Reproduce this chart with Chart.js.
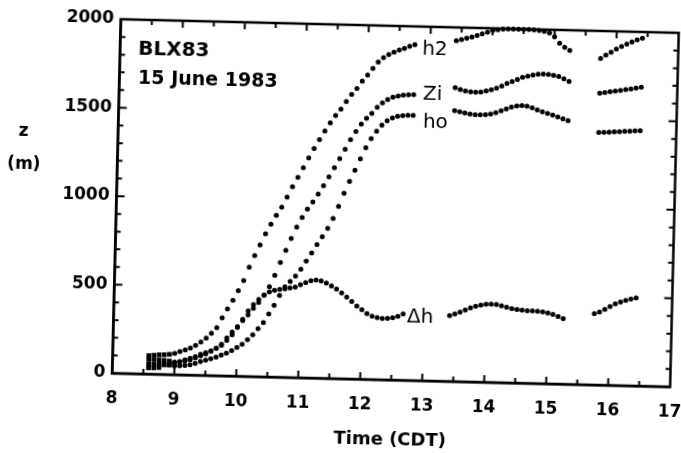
<!DOCTYPE html>
<html>
<head>
<meta charset="utf-8">
<script src="https://cdn.jsdelivr.net/npm/chart.js@4/dist/chart.umd.min.js"></script>
<style>
  html, body { margin: 0; padding: 0; background: #fff; overflow: hidden; width: 681px; height: 453px; }
  #wrap { width: 681px; height: 453px; position: relative; overflow: hidden; }
  #c { display: block; position: absolute; left: 0; top: 0;
       transform-origin: 395.5px 203px; transform: rotate(1.4deg); }
</style>
</head>
<body>
<div id="wrap"><canvas id="c" width="700" height="453"></canvas></div>
<script>
// ---- time axis (hours, CDT), one reading every 5 minutes ----
const TIME_H = [
  8.583, 8.667, 8.75, 8.833, 8.917,
  9.0, 9.083, 9.167, 9.25, 9.333, 9.417, 9.5, 9.583, 9.667, 9.75, 9.833, 9.917,
  10.0, 10.083, 10.167, 10.25, 10.333, 10.417, 10.5, 10.583, 10.667, 10.75, 10.833, 10.917,
  11.0, 11.083, 11.167, 11.25, 11.333, 11.417, 11.5, 11.583, 11.667, 11.75, 11.833, 11.917,
  12.0, 12.083, 12.167, 12.25, 12.333, 12.417, 12.5, 12.583, 12.667, 12.75, 12.833, 12.917,
  13.0, 13.083, 13.167, 13.25, 13.333, 13.417, 13.5, 13.583, 13.667, 13.75, 13.833, 13.917,
  14.0, 14.083, 14.167, 14.25, 14.333, 14.417, 14.5, 14.583, 14.667, 14.75, 14.833, 14.917,
  15.0, 15.083, 15.167, 15.25, 15.333, 15.417, 15.5, 15.583, 15.667, 15.75, 15.833, 15.917,
  16.0, 16.083, 16.167, 16.25, 16.333, 16.417, 16.5
];

// ---- series values (m) ----
const H2 = [
  104, 107, 110, 111, 114,
  120, 132, 141, 152, 168, 188, 211, 239, 271, 327, 379, 428,
  483, 541, 617, 683, 744, 808, 863, 914, 961, 1018, 1077, 1131,
  1186, 1243, 1296, 1347, 1397, 1444, 1486, 1522, 1567, 1607, 1641, 1683,
  1719, 1757, 1794, 1819, 1838, 1851, 1864, 1874, 1887, 1897, null, null,
  null, null, null, null, null, 1925, 1932, 1940, 1948, 1957, 1968, 1978,
  1988, 1993, 1997, 1998, 1999, 1999, 1999, 1998, 1997, 1995, 1990, 1982,
  1960, 1925, 1902, 1885, null, null, null, null, null, 1845, 1865, 1882,
  1900, 1915, 1930, 1942, 1955, 1965, null
];
const ZI = [
  82, 82, 81, 79, 76,
  71, 71, 78, 86, 97, 110, 122, 137, 154, 178, 214, 248,
  280, 315, 348, 385, 420, 462, 510, 575, 648, 717, 785, 850,
  906, 953, 995, 1040, 1088, 1139, 1191, 1243, 1297, 1351, 1398, 1440,
  1474, 1503, 1538, 1564, 1583, 1598, 1605, 1610, 1613, 1615, null, null,
  null, null, null, null, null, 1660, 1650, 1643, 1638, 1637, 1638, 1645,
  1652, 1662, 1675, 1690, 1702, 1715, 1727, 1735, 1742, 1747, 1748, 1747,
  1743, 1737, 1725, 1710, null, null, null, null, null, 1648, 1652, 1658,
  1662, 1667, 1672, 1677, 1682, 1688, null
];
const HO = [
  55, 55, 55, 55, 53,
  50, 51, 54, 58, 67, 77, 86, 95, 105, 117, 129, 144,
  162, 181, 208, 236, 271, 307, 356, 405, 462, 511, 543, 574,
  613, 659, 706, 754, 800, 848, 904, 973, 1048, 1116, 1179, 1244,
  1308, 1360, 1403, 1438, 1463, 1480, 1490, 1495, 1497, 1497, null, null,
  null, null, null, null, null, 1530, 1524, 1518, 1513, 1510, 1510, 1512,
  1516, 1524, 1535, 1547, 1558, 1565, 1568, 1565, 1556, 1545, 1535, 1527,
  1518, 1508, 1498, 1488, null, null, null, null, null, 1426, 1428, 1430,
  1432, 1434, 1436, 1438, 1440, 1442, null
];
const DH = [
  35, 35, 38, 55, 62,
  68, 75, 85, 95, 105, 118, 128, 140, 155, 172, 200, 233,
  275, 322, 370, 407, 437, 462, 480, 490, 496, 500, 505, 512,
  525, 538, 549, 554, 550, 538, 522, 505, 485, 462, 438, 412,
  393, 372, 357, 350, 346, 347, 352, 360, 375, null, null, null,
  null, null, null, null, null, 372, 382, 392, 405, 418, 428, 435,
  440, 442, 440, 434, 427, 420, 415, 412, 410, 409, 408, 405,
  400, 392, 382, 370, null, null, null, null, null, 402, 412, 428,
  445, 460, 472, 482, 490, 497, null
];

// ---- labels ----
const SERIES_NAMES = ['h2', 'Zi', 'ho', '\u0394h'];
const X_TICK_LABELS = [8, 9, 10, 11, 12, 13, 14, 15, 16, 17];
const Y_TICK_LABELS = [0, 500, 1000, 1500, 2000];
const X_TITLE = 'Time (CDT)';
const Y_TITLE = ['z', '(m)'];
const TITLE_LINES = ['BLX83', '15 June 1983'];

// ---- text placement (in data units) ----
const TEXT_ITEMS = [
  { text: TITLE_LINES[0], t: 8.29, z: 1801, font: 'bold 20px "DejaVu Sans"' },
  { text: TITLE_LINES[1], t: 8.30, z: 1637, font: 'bold 19px "DejaVu Sans"' },
  { text: SERIES_NAMES[0], t: 12.87, z: 1840, font: '20px "DejaVu Sans"' },
  { text: SERIES_NAMES[1], t: 12.90, z: 1586, font: '20px "DejaVu Sans"' },
  { text: SERIES_NAMES[2], t: 12.91, z: 1428, font: '20px "DejaVu Sans"' },
  { text: SERIES_NAMES[3], t: 12.73, z: 329, font: '20px "DejaVu Sans"' }
];

function toPoints(vals) {
  const pts = [];
  TIME_H.forEach((t, i) => { if (vals[i] !== null) pts.push({ x: t, y: vals[i] }); });
  return pts;
}

const seriesVals = [H2, ZI, HO, DH];
const datasets = seriesVals.map((vals, k) => ({
  label: SERIES_NAMES[k],
  data: toPoints(vals),
  showLine: false,
  clip: false,
  backgroundColor: '#000',
  borderColor: '#000',
  borderWidth: 0,
  pointStyle: c => (c.raw && c.raw.x < 8.95) ? 'rect' : 'circle',
  pointRadius: c => (c.raw && c.raw.x < 8.95) ? 3.3 : 2.5,
  pointHoverRadius: 0
}));

const frameAndText = {
  id: 'frameAndText',
  afterDraw(chart) {
    const { ctx, chartArea: a, scales: { x, y } } = chart;
    ctx.save();
    ctx.strokeStyle = '#000';
    ctx.lineWidth = 2.5;
    ctx.strokeRect(a.left, a.top, a.right - a.left, a.bottom - a.top);
    ctx.lineWidth = 2;
    ctx.beginPath();
    x.ticks.forEach(tk => {
      if (tk.value <= x.min || tk.value >= x.max) return;
      const px = x.getPixelForValue(tk.value);
      const len = Number.isInteger(tk.value) ? 7 : 5;
      ctx.moveTo(px, a.bottom); ctx.lineTo(px, a.bottom - len);
      ctx.moveTo(px, a.top); ctx.lineTo(px, a.top + len);
    });
    y.ticks.forEach(tk => {
      if (tk.value <= y.min || tk.value >= y.max) return;
      const py = y.getPixelForValue(tk.value);
      const len = (tk.value % 500 === 0) ? 8 : 5;
      ctx.moveTo(a.left, py); ctx.lineTo(a.left + len, py);
      ctx.moveTo(a.right, py); ctx.lineTo(a.right - len, py);
    });
    ctx.stroke();

    ctx.fillStyle = '#000';
    ctx.textBaseline = 'alphabetic';
    ctx.textAlign = 'left';
    TEXT_ITEMS.forEach(it => {
      ctx.font = it.font;
      ctx.fillText(it.text, x.getPixelForValue(it.t), y.getPixelForValue(it.z));
    });
    ctx.textAlign = 'center';
    ctx.font = 'bold 17px "DejaVu Sans"';
    ctx.fillText(Y_TITLE[0], 22, 145);
    ctx.fillText(Y_TITLE[1], 23, 178);
    ctx.restore();
  }
};

const tickFont = { family: 'DejaVu Sans', weight: 'bold', size: 17 };

new Chart(document.getElementById('c'), {
  type: 'scatter',
  data: { datasets },
  options: {
    responsive: false,
    animation: false,
    devicePixelRatio: 1,
    events: [],
    layout: { padding: { left: 0, right: 25.5, top: 26, bottom: 0 } },
    plugins: { legend: { display: false }, tooltip: { enabled: false } },
    scales: {
      x: {
        type: 'linear', position: 'bottom', min: 8, max: 17,
        afterFit(s) { s.height = 73; s.paddingLeft = 0; s.paddingRight = 0; },
        ticks: {
          stepSize: 0.5, autoSkip: false, maxRotation: 0, padding: 15,
          color: '#000', font: tickFont,
          callback: v => X_TICK_LABELS.includes(v) ? String(v) : ''
        },
        grid: { display: true, drawOnChartArea: false, drawTicks: false },
        border: { display: true, color: '#000', width: 2.5 },
        title: {
          display: true, text: X_TITLE, color: '#000',
          font: { family: 'DejaVu Sans', weight: 'bold', size: 18 },
          padding: { top: 0, bottom: 2 }
        }
      },
      y: {
        type: 'linear', min: 0, max: 2000,
        afterFit(s) { s.width = 116.5; s.paddingTop = 0; s.paddingBottom = 0; },
        ticks: {
          stepSize: 100, autoSkip: false, padding: 7,
          color: '#000', font: tickFont,
          callback: v => Y_TICK_LABELS.includes(v) ? String(v) : ''
        },
        grid: { display: true, drawOnChartArea: false, drawTicks: false },
        border: { display: true, color: '#000', width: 2.5 }
      }
    }
  },
  plugins: [frameAndText]
});
</script>
</body>
</html>
